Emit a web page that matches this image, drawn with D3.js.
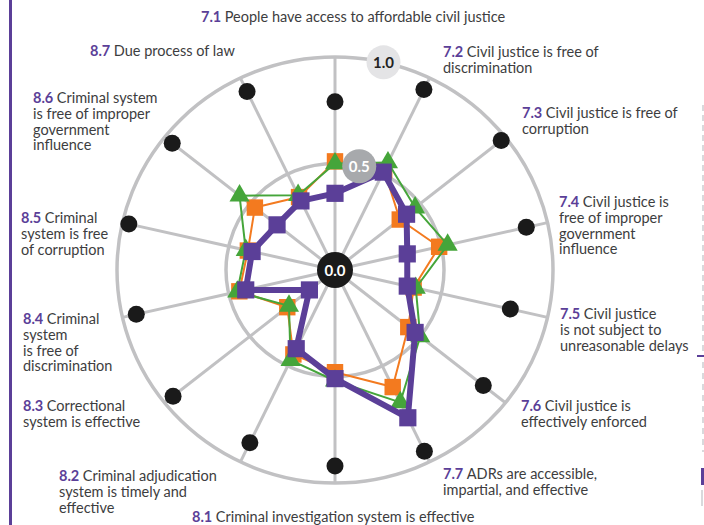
<!DOCTYPE html>
<html><head><meta charset="utf-8">
<script src="https://cdnjs.cloudflare.com/ajax/libs/d3/7.8.5/d3.min.js"></script>
<style>
html,body{margin:0;padding:0;background:#fff;}
svg{display:block;}
</style></head>
<body>
<svg id="chart" width="704" height="525"></svg>
<script>
const codes = ["7.1","7.2","7.3","7.4","7.5","7.6","7.7","8.1","8.2","8.3","8.4","8.5","8.6","8.7"];
const labelLines = [
  ["People have access to affordable civil justice"],
  ["Civil justice is free of","discrimination"],
  ["Civil justice is free of","corruption"],
  ["Civil justice is","free of improper","government","influence"],
  ["Civil justice","is not subject to","unreasonable delays"],
  ["Civil justice is","effectively enforced"],
  ["ADRs are accessible,","impartial, and effective"],
  ["Criminal investigation system is effective"],
  ["Criminal adjudication","system is timely and","effective"],
  ["Correctional","system is effective"],
  ["Criminal","system","is free of","discrimination"],
  ["Criminal","system is free","of corruption"],
  ["Criminal system","is free of improper","government","influence"],
  ["Due process of law"]
];
const seriesOrange = [0.51,0.52,0.38,0.49,0.37,0.43,0.61,0.48,0.44,0.28,0.45,0.41,0.47,0.38];
const seriesGreen  = [0.50,0.56,0.47,0.53,0.38,0.50,0.69,0.52,0.47,0.27,0.46,0.42,0.56,0.39];
const seriesPurple = [0.36,0.51,0.42,0.34,0.34,0.47,0.77,0.51,0.41,0.15,0.42,0.39,0.34,0.36];
const topScores    = [0.79,0.94,0.975,0.90,0.825,0.87,0.945,0.92,0.90,0.95,0.935,0.97,0.955,0.93];
const ringTicks = [0.0, 0.5, 1.0];

const svg = d3.select("#chart");
const cx = 335, cy = 270;
const rX = d3.scaleLinear().domain([0,1]).range([0,218]);
const rY = d3.scaleLinear().domain([0,1]).range([0,213]);
const ang = d3.scaleLinear().domain([0, codes.length]).range([0, 2*Math.PI]);
const pt = (i, v) => [cx + rX(v)*Math.sin(ang(i)), cy - rY(v)*Math.cos(ang(i))];

const gray = "#c1c1c3";
const purple = "#5b3f98";
const orange = "#f37a1f";
const green = "#45a53a";

// left border line
svg.append("rect").attr("x",9).attr("y",0).attr("width",3).attr("height",525).attr("fill",purple);
// right edge fragments
svg.append("line").attr("x1",703).attr("x2",703).attr("y1",105).attr("y2",352).attr("stroke","#d9d9dc").attr("stroke-width",2).attr("stroke-dasharray","6,4");
svg.append("line").attr("x1",697).attr("x2",704).attr("y1",356).attr("y2",356).attr("stroke",purple).attr("stroke-width",2);
svg.append("line").attr("x1",703).attr("x2",703).attr("y1",362).attr("y2",452).attr("stroke","#d9d9dc").attr("stroke-width",2).attr("stroke-dasharray","6,5");
svg.append("rect").attr("x",701).attr("y",468).attr("width",3).attr("height",17).attr("fill",purple);
svg.append("rect").attr("x",701).attr("y",490).attr("width",2).attr("height",16).attr("fill","#d9d9dc");

// rings
svg.selectAll("ellipse.ring").data([0.5,1.0]).join("ellipse")
  .attr("cx",cx).attr("cy",cy).attr("rx",d=>rX(d)).attr("ry",d=>rY(d))
  .attr("fill","none").attr("stroke",gray).attr("stroke-width",3.5);

// spokes
svg.selectAll("line.spoke").data(codes).join("line")
  .attr("x1",cx).attr("y1",cy)
  .attr("x2",(d,i)=>pt(i,1)[0]).attr("y2",(d,i)=>pt(i,1)[1])
  .attr("stroke",gray).attr("stroke-width",3);

// top-score dots
svg.selectAll("circle.top").data(topScores).join("circle")
  .attr("cx",(d,i)=>pt(i,d)[0]).attr("cy",(d,i)=>pt(i,d)[1])
  .attr("r",8.5).attr("fill","#1a1a1a");

// series
const line = d3.line().curve(d3.curveLinearClosed);
function drawSeries(vals, color, width, shape, size){
  const pts = vals.map((v,i)=>pt(i,v));
  svg.append("path").attr("d", line(pts)).attr("fill","none")
    .attr("stroke",color).attr("stroke-width",width).attr("stroke-linejoin","round");
  const sym = d3.symbol().type(shape).size(size);
  svg.append("g").selectAll("path").data(pts).join("path")
    .attr("transform",d=>`translate(${d[0]},${d[1]})`)
    .attr("d",sym()).attr("fill",color);
}
drawSeries(seriesOrange, orange, 2, d3.symbolSquare, 270);
drawSeries(seriesGreen, green, 2, d3.symbolTriangle, 175);
drawSeries(seriesPurple, purple, 6, d3.symbolSquare, 295);

// ring value labels
const lblAng = ang(0.5);
const tickStyle = {0:{fill:"#1a1a1a",txt:"#fff",r:18}, 0.5:{fill:"#a7a9ac",txt:"#fff",r:17}, 1:{fill:"#e4e4e6",txt:"#222",r:17}};
ringTicks.forEach(t=>{
  const x = cx + rX(t)*Math.sin(lblAng), y = cy - rY(t)*Math.cos(lblAng);
  const s = tickStyle[t];
  svg.append("circle").attr("cx",x).attr("cy",y).attr("r",s.r).attr("fill",s.fill);
  svg.append("text").attr("x",x).attr("y",y+5.5).attr("text-anchor","middle")
    .attr("font-family","Lato, 'Open Sans', sans-serif").attr("font-weight","bold").attr("font-size",15)
    .attr("fill",s.txt).text(d3.format(".1f")(t));
});

// category labels
const labelPos = [
  [201,22],[443,57],[522,118],[559,207],[560,319],[521,411],[443,479],
  [192,522],[59,481],[23,411],[23,324],[21,223],[33,103],[90,56]
];
const lh = 15.8;
const font = "Lato, 'Open Sans', sans-serif";
labelLines.forEach((lines,i)=>{
  const t = svg.append("text").attr("font-family",font).attr("font-size",14.5).attr("fill","#3d3d40");
  lines.forEach((ln,j)=>{
    const ts = t.append("tspan").attr("x",labelPos[i][0]).attr("y",labelPos[i][1]+j*lh);
    if(j===0){
      ts.append("tspan").attr("fill",purple).attr("font-weight","bold").text(codes[i]+" ");
      ts.append("tspan").text(ln);
    } else ts.text(ln);
  });
});
</script>
</body></html>
